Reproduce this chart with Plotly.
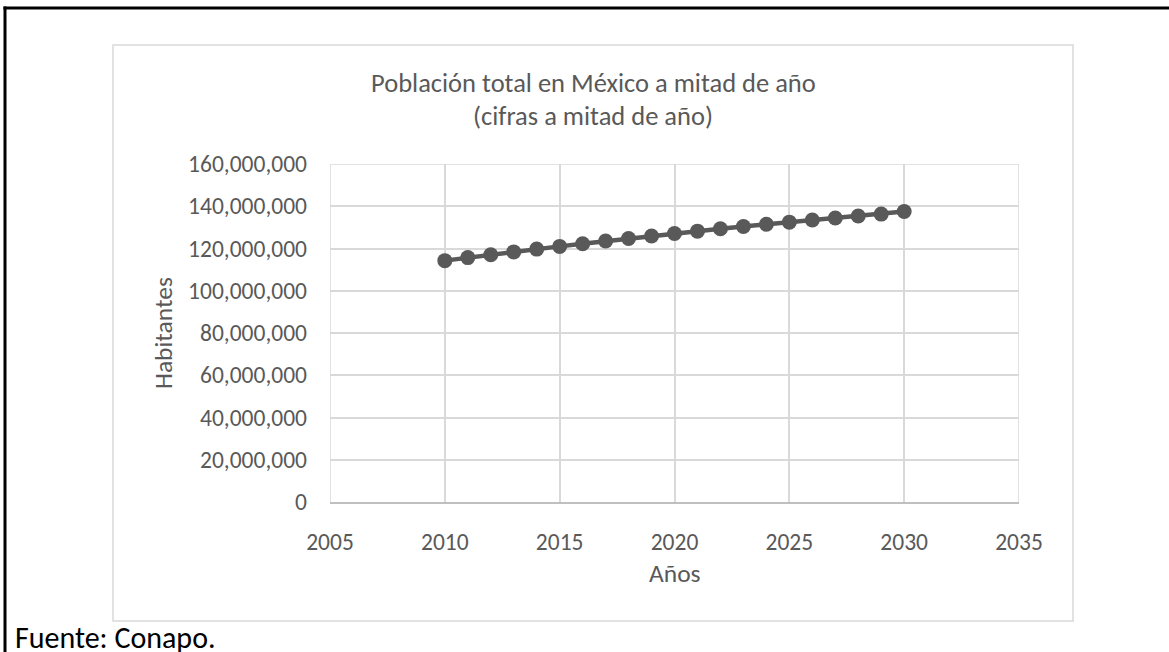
import plotly.graph_objects as go

years = list(range(2010, 2031))
population = [114255555, 115682868, 117053750, 118395054, 119713203, 121005815,
              122273473, 123518270, 124737789, 125929439, 127091642, 128224564,
              129328883, 130405063, 131453434, 132474303, 133467866, 134434346,
              135374131, 136287612, 137481336]

title_lines = ["Población total en México a mitad de año", "(cifras a mitad de año)"]
x_title = "Años"
y_title = "Habitantes"
source_text = "Fuente: Conapo."
x_range = [2005, 2035]
y_range = [0, 160000000]

W, H = 1169, 652
L, R, T, B = 330, 1019, 164, 502  # plot area pixels
FONT = "Calibri, Carlito, Lato, sans-serif"
TXT = "#595959"
GRID = "#d9d9d9"

def px(x):
    return (x - L) / (R - L)

def py(y):
    return (B - y) / (B - T)

fig = go.Figure()
fig.add_trace(go.Scatter(
    x=years, y=population, mode="lines+markers",
    line=dict(color="#595959", width=4.5),
    marker=dict(color="#595959", size=15),
    showlegend=False, hoverinfo="x+y"))

shapes = [
    # outer black frame (top and left)
    dict(type="line", xref="paper", yref="paper", x0=px(3.5), x1=px(1175), y0=py(8), y1=py(8),
         line=dict(color="black", width=3)),
    dict(type="line", xref="paper", yref="paper", x0=px(5), x1=px(5), y0=py(6.5), y1=py(660),
         line=dict(color="black", width=3)),
    # chart area border
    dict(type="rect", xref="paper", yref="paper", x0=px(113), x1=px(1073), y0=py(45), y1=py(621),
         line=dict(color=GRID, width=1.5), fillcolor="rgba(0,0,0,0)", layer="below"),
    # gridlines at the plot edges
    dict(type="line", xref="x", yref="paper", x0=x_range[0], x1=x_range[0], y0=0, y1=1,
         line=dict(color=GRID, width=1.5), layer="below"),
    dict(type="line", xref="x", yref="paper", x0=x_range[1], x1=x_range[1], y0=0, y1=1,
         line=dict(color=GRID, width=1.5), layer="below"),
    dict(type="line", xref="paper", yref="y", x0=0, x1=1, y0=y_range[1], y1=y_range[1],
         line=dict(color=GRID, width=1.5), layer="below"),
]

annotations = [
    dict(text=title_lines[0], x=px(593), y=py(83), xref="paper", yref="paper",
         showarrow=False, font=dict(family=FONT, size=26.5, color=TXT), xanchor="center", yanchor="middle"),
    dict(text=title_lines[1], x=px(593), y=py(116), xref="paper", yref="paper",
         showarrow=False, font=dict(family=FONT, size=26.5, color=TXT), xanchor="center", yanchor="middle"),
    dict(text=x_title, x=px(675), y=py(573), xref="paper", yref="paper",
         showarrow=False, font=dict(family=FONT, size=25.5, color=TXT), xanchor="center", yanchor="middle"),
    dict(text=y_title, x=px(163), y=py(333), xref="paper", yref="paper", textangle=-90,
         showarrow=False, font=dict(family=FONT, size=25.5, color=TXT), xanchor="center", yanchor="middle"),
    dict(text=source_text, x=px(13), y=py(637), xref="paper", yref="paper",
         showarrow=False, font=dict(family=FONT, size=30, color="black"), xanchor="left", yanchor="middle"),
]

fig.update_layout(
    width=W, height=H,
    margin=dict(l=L, r=W - R, t=T, b=H - B, pad=0),
    paper_bgcolor="white", plot_bgcolor="white",
    shapes=shapes, annotations=annotations,
    font=dict(family=FONT, color=TXT, size=23.5),
    xaxis=dict(range=x_range, dtick=5, tick0=2005, showgrid=True, gridcolor=GRID, gridwidth=1.5,
               showline=True, linecolor="#bfbfbf", linewidth=1.5, zeroline=False,
               ticks="", ticklabelstandoff=18, tickfont=dict(family=FONT, size=23.5, color=TXT)),
    yaxis=dict(range=y_range, dtick=20000000, showgrid=True, gridcolor=GRID, gridwidth=1.5,
               showline=False, zeroline=False, tickformat=",d",
               ticks="", ticklabelstandoff=22, tickfont=dict(family=FONT, size=23.5, color=TXT)),
)

fig.write_html("out.html", config={"displayModeBar": False},
               post_script="document.body.style.margin='0';document.body.style.overflow='hidden';")
